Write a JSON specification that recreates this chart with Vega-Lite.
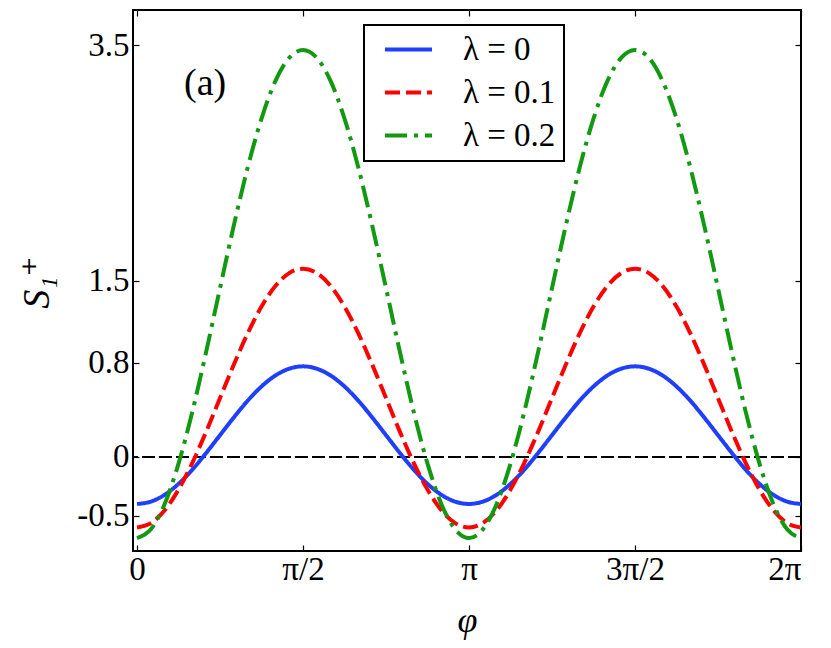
{
  "$schema": "https://vega.github.io/schema/vega-lite/v6.json",
  "width": 668,
  "height": 541,
  "autosize": {"type": "none"},
  "padding": {"left": 133, "top": 10, "right": 30, "bottom": 97},
  "background": "white",
  "config": {
    "font": "Liberation Serif, DejaVu Serif, serif",
    "view": {"stroke": "black", "strokeWidth": 2},
    "axis": {
      "grid": false,
      "domain": false,
      "tickColor": "black",
      "tickWidth": 1.2,
      "tickSize": -6,
      "labelFont": "Liberation Serif, DejaVu Serif, serif",
      "labelFontSize": 33,
      "labelColor": "black",
      "titleFont": "Liberation Serif, DejaVu Serif, serif",
      "titleColor": "black",
      "titleFontWeight": "normal"
    },
    "legend": {
      "orient": "none",
      "legendX": 231,
      "legendY": 15,
      "symbolType": "M-2.35,0L2.35,0",
      "symbolSize": 400,
      "symbolStrokeWidth": 4,
      "symbolOffset": 20,
      "labelOffset": 38,
      "labelFont": "Liberation Serif, DejaVu Serif, serif",
      "labelFontSize": 33,
      "labelColor": "black",
      "padding": 8,
      "rowPadding": 9,
      "fillColor": "white",
      "strokeColor": "black",
      "strokeWidth": 2
    }
  },
  "data": {
    "values": [
      {"phi": 0, "l0": -0.4, "l1": -0.6, "l2": -0.69},
      {"phi": 0.1309, "l0": -0.38, "l1": -0.563, "l2": -0.616},
      {"phi": 0.2618, "l0": -0.322, "l1": -0.453, "l2": -0.4},
      {"phi": 0.3927, "l0": -0.229, "l1": -0.278, "l2": -0.057},
      {"phi": 0.5236, "l0": -0.108, "l1": -0.05, "l2": 0.385},
      {"phi": 0.6545, "l0": 0.034, "l1": 0.215, "l2": 0.895},
      {"phi": 0.7854, "l0": 0.185, "l1": 0.5, "l2": 1.435},
      {"phi": 0.9163, "l0": 0.336, "l1": 0.785, "l2": 1.969},
      {"phi": 1.0472, "l0": 0.478, "l1": 1.05, "l2": 2.46},
      {"phi": 1.1781, "l0": 0.599, "l1": 1.278, "l2": 2.877},
      {"phi": 1.309, "l0": 0.692, "l1": 1.453, "l2": 3.195},
      {"phi": 1.4399, "l0": 0.75, "l1": 1.563, "l2": 3.393},
      {"phi": 1.5708, "l0": 0.77, "l1": 1.6, "l2": 3.46},
      {"phi": 1.7017, "l0": 0.75, "l1": 1.563, "l2": 3.393},
      {"phi": 1.8326, "l0": 0.692, "l1": 1.453, "l2": 3.195},
      {"phi": 1.9635, "l0": 0.599, "l1": 1.278, "l2": 2.877},
      {"phi": 2.0944, "l0": 0.478, "l1": 1.05, "l2": 2.46},
      {"phi": 2.2253, "l0": 0.336, "l1": 0.785, "l2": 1.969},
      {"phi": 2.3562, "l0": 0.185, "l1": 0.5, "l2": 1.435},
      {"phi": 2.4871, "l0": 0.034, "l1": 0.215, "l2": 0.895},
      {"phi": 2.618, "l0": -0.108, "l1": -0.05, "l2": 0.385},
      {"phi": 2.7489, "l0": -0.229, "l1": -0.278, "l2": -0.057},
      {"phi": 2.8798, "l0": -0.322, "l1": -0.453, "l2": -0.4},
      {"phi": 3.0107, "l0": -0.38, "l1": -0.563, "l2": -0.616},
      {"phi": 3.1416, "l0": -0.4, "l1": -0.6, "l2": -0.69},
      {"phi": 3.2725, "l0": -0.38, "l1": -0.563, "l2": -0.616},
      {"phi": 3.4034, "l0": -0.322, "l1": -0.453, "l2": -0.4},
      {"phi": 3.5343, "l0": -0.229, "l1": -0.278, "l2": -0.057},
      {"phi": 3.6652, "l0": -0.108, "l1": -0.05, "l2": 0.385},
      {"phi": 3.7961, "l0": 0.034, "l1": 0.215, "l2": 0.895},
      {"phi": 3.927, "l0": 0.185, "l1": 0.5, "l2": 1.435},
      {"phi": 4.0579, "l0": 0.336, "l1": 0.785, "l2": 1.969},
      {"phi": 4.1888, "l0": 0.478, "l1": 1.05, "l2": 2.46},
      {"phi": 4.3197, "l0": 0.599, "l1": 1.278, "l2": 2.877},
      {"phi": 4.4506, "l0": 0.692, "l1": 1.453, "l2": 3.195},
      {"phi": 4.5815, "l0": 0.75, "l1": 1.563, "l2": 3.393},
      {"phi": 4.7124, "l0": 0.77, "l1": 1.6, "l2": 3.46},
      {"phi": 4.8433, "l0": 0.75, "l1": 1.563, "l2": 3.393},
      {"phi": 4.9742, "l0": 0.692, "l1": 1.453, "l2": 3.195},
      {"phi": 5.1051, "l0": 0.599, "l1": 1.278, "l2": 2.877},
      {"phi": 5.236, "l0": 0.478, "l1": 1.05, "l2": 2.46},
      {"phi": 5.3669, "l0": 0.336, "l1": 0.785, "l2": 1.969},
      {"phi": 5.4978, "l0": 0.185, "l1": 0.5, "l2": 1.435},
      {"phi": 5.6287, "l0": 0.034, "l1": 0.215, "l2": 0.895},
      {"phi": 5.7596, "l0": -0.108, "l1": -0.05, "l2": 0.385},
      {"phi": 5.8905, "l0": -0.229, "l1": -0.278, "l2": -0.057},
      {"phi": 6.0214, "l0": -0.322, "l1": -0.453, "l2": -0.4},
      {"phi": 6.1523, "l0": -0.38, "l1": -0.563, "l2": -0.616},
      {"phi": 6.2832, "l0": -0.4, "l1": -0.6, "l2": -0.69}
    ]
  },
  "layer": [
    {
      "mark": {"type": "rule", "color": "black", "strokeWidth": 2, "strokeDash": [13, 4]},
      "encoding": {"y": {"datum": 0, "type": "quantitative", "axis": null}}
    },
    {
      "transform": [{"fold": ["l0", "l1", "l2"], "as": ["series", "value"]}],
      "mark": {"type": "line", "strokeWidth": 4, "interpolate": "monotone"},
      "encoding": {
        "x": {
          "field": "phi",
          "type": "quantitative",
          "scale": {"domain": [-0.038, 6.2832], "nice": false, "zero": false},
          "axis": {
            "orient": "bottom",
            "values": [0, 1.5708, 3.1416, 4.7124, 6.2832],
            "labelExpr": "datum.value < 0.5 ? '0' : datum.value < 2 ? 'π/2' : datum.value < 4 ? 'π' : datum.value < 5.5 ? '3π/2' : '2π'",
            "labelBaseline": "alphabetic",
            "labelPadding": 34,
            "title": "φ",
            "titleFontSize": 36,
            "titleFontStyle": "italic",
            "titleX": 334,
            "titleY": 69,
            "titleAlign": "center",
            "titleBaseline": "middle"
          }
        },
        "y": {
          "field": "value",
          "type": "quantitative",
          "scale": {"domain": [-0.8, 3.8], "nice": false, "zero": false},
          "axis": {
            "orient": "left",
            "values": [-0.5, 0, 0.8, 1.5, 3.5],
            "labelExpr": "datum.value < -0.1 ? '-0.5' : datum.value == 0 ? '0' : format(datum.value, '.1f')",
            "labelPadding": 10,
            "title": "S₁⁺",
            "titleFontSize": 38,
            "titleFontStyle": "italic",
            "titleAngle": -90,
            "titleX": -96,
            "titleY": 272,
            "titleAlign": "center",
            "titleBaseline": "middle"
          }
        },
        "color": {
          "field": "series",
          "type": "nominal",
          "scale": {"domain": ["l0", "l1", "l2"], "range": ["#1f3fff", "#ff0000", "#119911"]},
          "legend": {
            "title": null,
            "labelExpr": "datum.label == 'l0' ? 'λ = 0' : datum.label == 'l1' ? 'λ = 0.1' : 'λ = 0.2'"
          }
        },
        "strokeDash": {
          "field": "series",
          "type": "nominal",
          "scale": {"domain": ["l0", "l1", "l2"], "range": [[1, 0], [15, 6], [22, 7, 4, 7]]},
          "legend": {
            "title": null,
            "labelExpr": "datum.label == 'l0' ? 'λ = 0' : datum.label == 'l1' ? 'λ = 0.1' : 'λ = 0.2'"
          }
        }
      }
    },
    {
      "data": {"values": [{"note": "(a)"}]},
      "mark": {"type": "text", "fontSize": 38, "align": "center", "baseline": "middle", "color": "black"},
      "encoding": {
        "text": {"field": "note"},
        "x": {
          "datum": 0.644,
          "type": "quantitative",
          "axis": {"orient": "top", "values": [0, 1.5708, 3.1416, 4.7124, 6.2832], "labels": false, "title": null}
        },
        "y": {
          "datum": 3.17,
          "type": "quantitative",
          "axis": {"orient": "right", "values": [-0.5, 0, 0.8, 1.5, 3.5], "labels": false, "title": null}
        }
      }
    }
  ],
  "resolve": {"axis": {"x": "independent", "y": "independent"}}
}
